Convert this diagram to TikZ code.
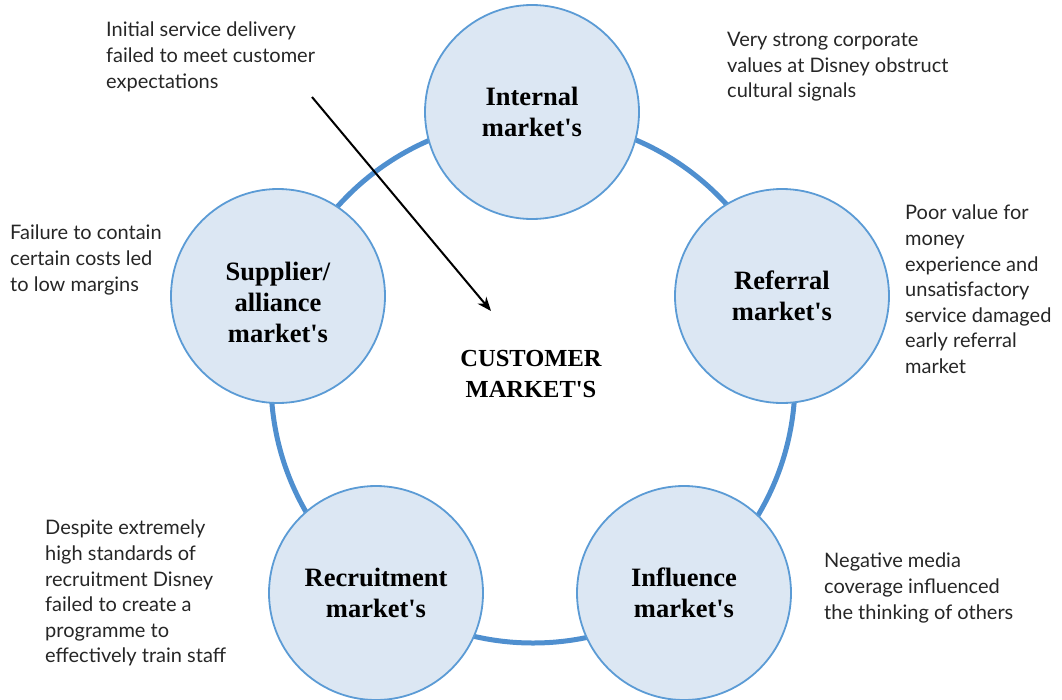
\documentclass[tikz,border=0pt]{standalone}
\usepackage{fontspec}
\setmainfont{Lato}
\newfontfamily\labfont{Liberation Serif}
\usetikzlibrary{arrows.meta}
\definecolor{ringblue}{HTML}{4F8FCF}
\definecolor{circfill}{HTML}{DCE7F3}
\definecolor{circline}{HTML}{5B9BD5}
\tikzset{
  mkt/.style={circle, minimum size=214pt, inner sep=0pt, fill=circfill, draw=circline, line width=1.8pt},
  mktlabel/.style={align=center, inner sep=0pt, font=\labfont\bfseries\fontsize{26.5}{31}\selectfont},
  centerlabel/.style={align=center, inner sep=0pt, font=\labfont\bfseries\fontsize{24.5}{31}\selectfont},
  note/.style={anchor=north west, align=left, inner sep=0pt, font=\fontsize{20}{25.6}\selectfont, text=black!85},
  ring/.style={draw=ringblue, line width=5pt},
  pointer/.style={-{Stealth[length=14pt,width=11pt]}, line width=2pt, black}
}
\begin{document}
\begin{tikzpicture}[x=1pt,y=-1pt]
\useasboundingbox (0,0) rectangle (1062,699);
\draw[ring] (533,381) circle[radius=262];
\node[mkt] (internal) at (532,112) {};
\node[mkt] (referral) at (782,296) {};
\node[mkt] (supplier) at (278,296) {};
\node[mkt] (recruit) at (376,593) {};
\node[mkt] (influence) at (684,593) {};
\node[mktlabel] at (internal) {Internal\\market's};
\node[mktlabel] at (referral) {Referral\\market's};
\node[mktlabel] at (278,302) {Supplier/\\alliance\\market's};
\node[mktlabel] at (recruit) {Recruitment\\market's};
\node[mktlabel] at (influence) {Influence\\market's};
\node[centerlabel] (customer) at (531,374) {CUSTOMER\\MARKET'S};
\node[note] (n1) at (106,22) {Initial service delivery\\failed to meet customer\\expectations};
\node[note] (n2) at (727,32) {Very strong corporate\\values at Disney obstruct\\cultural signals};
\node[note] (n3) at (905,205) {Poor value for\\money\\experience and\\unsatisfactory\\service damaged\\early referral\\market};
\node[note] (n4) at (10,225) {Failure to contain\\certain costs led\\to low margins};
\node[note] (n5) at (45,520) {Despite extremely\\high standards of\\recruitment Disney\\failed to create a\\programme to\\effectively train staff};
\node[note] (n6) at (824,553) {Negative media\\coverage influenced\\the thinking of others};
\coordinate (arrowstart) at (312,97);
\coordinate (arrowend) at (491,311);
\draw[pointer] (arrowstart) -- (arrowend);
\end{tikzpicture}
\end{document}
